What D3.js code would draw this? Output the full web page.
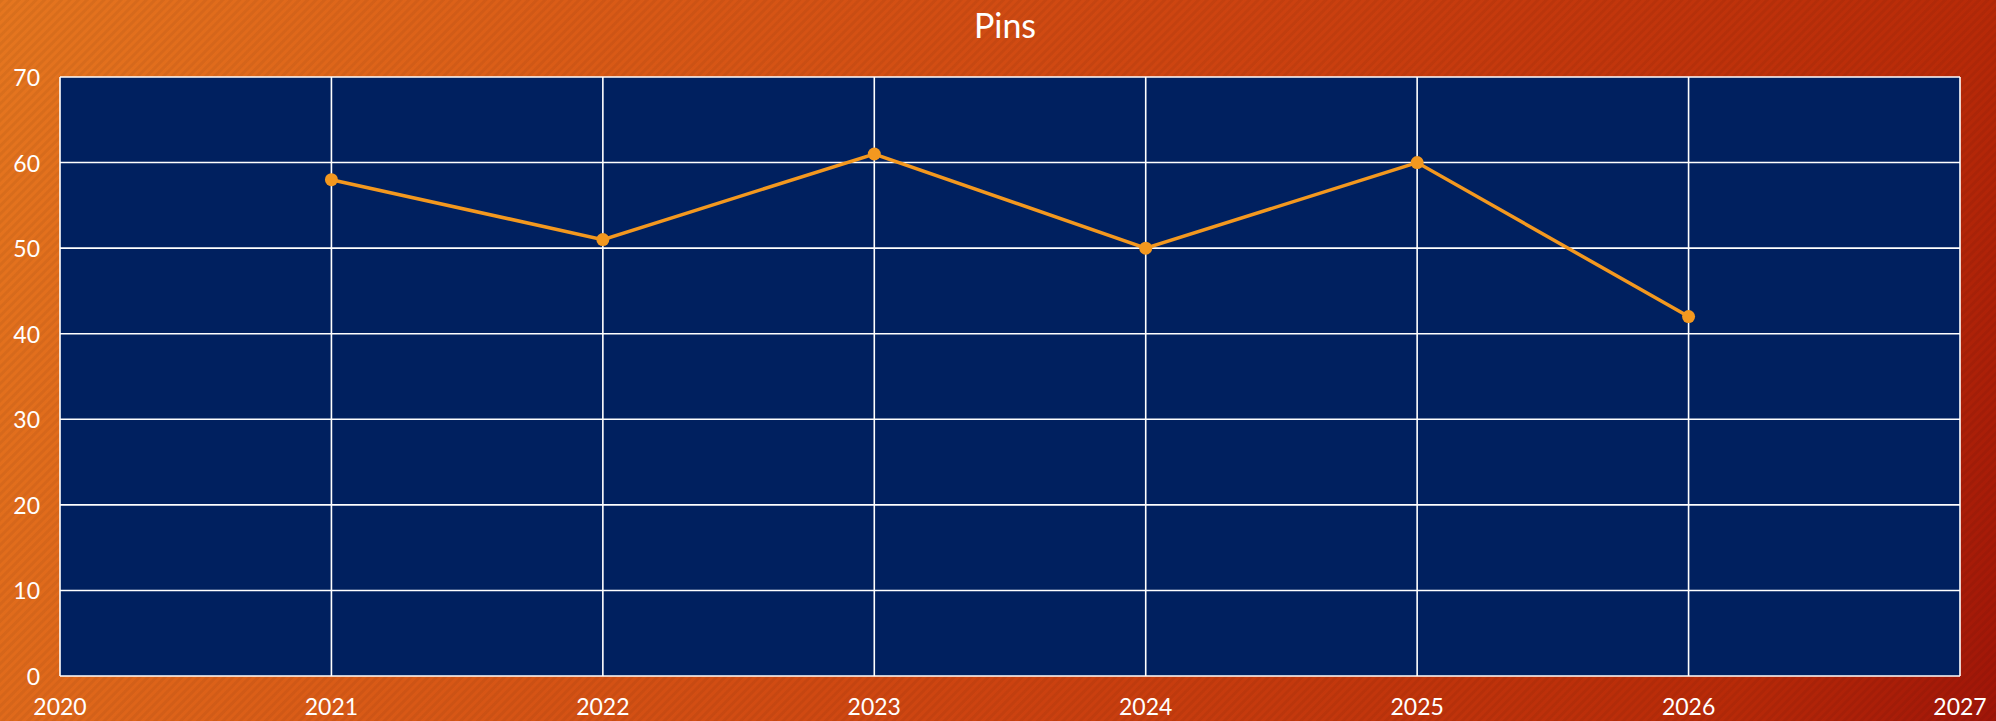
<!DOCTYPE html>
<html>
<head>
<meta charset="utf-8">
<script src="https://cdn.jsdelivr.net/npm/d3@7"></script>
<style>
  html, body { margin:0; padding:0; overflow:hidden; }
  text { font-family: Lato, "Open Sans", sans-serif; fill:#ffffff; }
</style>
</head>
<body>
<svg id="chart" width="1996" height="721"></svg>
<script>
var years = [2021, 2022, 2023, 2024, 2025, 2026];
var pins = [58, 51, 61, 50, 60, 42];
var xTicks = [2020, 2021, 2022, 2023, 2024, 2025, 2026, 2027];
var yTicks = [0, 10, 20, 30, 40, 50, 60, 70];
var chartTitle = "Pins";

var W = 1996, H = 721;
var plotL = 60, plotR = 1960, plotT = 77, plotB = 676;

var svg = d3.select("svg#chart");
var defs = svg.append("defs");

// background gradient, runs corner to corner in pixel space
var grad = defs.append("linearGradient")
  .attr("id", "bg")
  .attr("gradientUnits", "userSpaceOnUse")
  .attr("x1", 0).attr("y1", 0)
  .attr("x2", W).attr("y2", H);
grad.append("stop").attr("offset", "0%").attr("stop-color", "#e5761f");
grad.append("stop").attr("offset", "25%").attr("stop-color", "#da5c17");
grad.append("stop").attr("offset", "56%").attr("stop-color", "#cc4210");
grad.append("stop").attr("offset", "88%").attr("stop-color", "#b82a08");
grad.append("stop").attr("offset", "100%").attr("stop-color", "#a01508");

// faint diagonal stripes
var pat = defs.append("pattern")
  .attr("id", "stripes")
  .attr("width", 6).attr("height", 6)
  .attr("patternUnits", "userSpaceOnUse")
  .attr("patternTransform", "rotate(45)");
pat.append("rect").attr("width", 3).attr("height", 6).attr("fill", "#000").attr("opacity", 0.05);

svg.append("rect").attr("width", W).attr("height", H).attr("fill", "url(#bg)");
svg.append("rect").attr("width", W).attr("height", H).attr("fill", "url(#stripes)");

var xScale = d3.scaleLinear().domain([2020, 2027]).range([plotL, plotR]);
var yScale = d3.scaleLinear().domain([0, 70]).range([plotB, plotT]);

// plot area
svg.append("rect")
  .attr("x", xScale(2020))
  .attr("y", yScale(70))
  .attr("width", xScale(2027) - xScale(2020))
  .attr("height", yScale(0) - yScale(70))
  .attr("fill", "#00205f");

// grid
for (var i = 0; i < yTicks.length; i++) {
  svg.append("line")
    .attr("class", "ygrid")
    .attr("x1", xScale(2020)).attr("x2", xScale(2027))
    .attr("y1", yScale(yTicks[i])).attr("y2", yScale(yTicks[i]))
    .attr("stroke", "#ffffff").attr("stroke-width", 1.6);
  svg.append("text")
    .attr("class", "ylabel")
    .text(yTicks[i])
    .attr("x", 40)
    .attr("y", yScale(yTicks[i]))
    .attr("text-anchor", "end")
    .attr("dominant-baseline", "central")
    .attr("style", "font-size: 23px");
}
for (var i = 0; i < xTicks.length; i++) {
  svg.append("line")
    .attr("class", "xgrid")
    .attr("x1", xScale(xTicks[i])).attr("x2", xScale(xTicks[i]))
    .attr("y1", yScale(0)).attr("y2", yScale(70))
    .attr("stroke", "#ffffff").attr("stroke-width", 1.6);
  svg.append("text")
    .attr("class", "xlabel")
    .text(xTicks[i])
    .attr("x", xScale(xTicks[i]))
    .attr("y", 706)
    .attr("text-anchor", "middle")
    .attr("dominant-baseline", "central")
    .attr("style", "font-size: 23px");
}

// title
svg.append("text")
  .text(chartTitle)
  .attr("x", W / 2 + 7)
  .attr("y", 24)
  .attr("text-anchor", "middle")
  .attr("dominant-baseline", "central")
  .attr("style", "font-size: 34px");

// line + points
var line = d3.line()
  .x(function(d, i){ return xScale(years[i]); })
  .y(function(d){ return yScale(d); });

svg.append("path")
  .datum(pins)
  .attr("d", line)
  .attr("fill", "none")
  .attr("stroke", "#f3981f")
  .attr("stroke-width", 3.5);

svg.selectAll("circle.pt")
  .data(pins)
  .enter()
  .append("circle")
  .attr("class", "pt")
  .attr("cx", function(d, i){ return xScale(years[i]); })
  .attr("cy", function(d){ return yScale(d); })
  .attr("r", 6.5)
  .attr("fill", "#f3981f");
</script>
</body>
</html>
